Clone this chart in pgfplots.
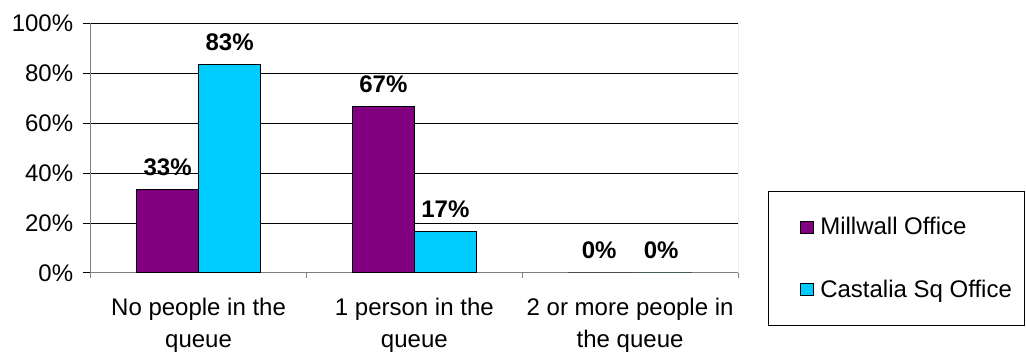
\documentclass[border=0pt]{standalone}
\usepackage{pgfplots}
\pgfplotsset{compat=1.18}
\usepackage{fontspec}
\setmainfont{Liberation Sans}
\definecolor{millwall}{RGB}{128,0,128}
\definecolor{castalia}{RGB}{0,204,255}
\definecolor{frame}{RGB}{128,128,128}
\newcommand{\chartfont}{\fontsize{24}{32}\selectfont}
\begin{document}
\begin{tikzpicture}
\useasboundingbox (0,0) rectangle (1026pt,352pt);
\begin{axis}[
  at={(90.7pt,79pt)}, anchor=south west,
  scale only axis,
  width=647.3pt, height=249.7pt,
  ybar=0pt, bar width=62pt,
  xmin=-0.5, xmax=2.5,
  ymin=0, ymax=100,
  /pgf/number format/assume math mode=true,
  every tick label/.append style={font=\chartfont},
  xtick={0,1,2},
  xticklabels={{No people in the\\queue},{1 person in the\\queue},{2 or more people in\\the queue}},
  xticklabel style={align=center, yshift=-14pt},
  major x tick style={draw=none},
  minor xtick={-0.5,0.5,1.5,2.5},
  minor tick length=5pt,
  minor x tick style={draw=frame, line width=1pt},
  ytick={0,20,40,60,80,100},
  yticklabel={\pgfmathprintnumber[assume math mode=true]{\tick}\%},
  yticklabel style={xshift=-6pt},
  major tick length=8pt,
  tick align=outside,
  ytick style={draw=black, line width=1pt},
  ymajorgrids,
  major grid style={black, line width=1pt},
  axis line style={frame, line width=1pt},
  axis x line*=bottom,
  axis y line*=left,
  nodes near coords={\pgfmathprintnumber[fixed,precision=0,assume math mode=true]{\pgfplotspointmeta}\%},
  every node near coord/.append style={font=\bfseries\chartfont, black, yshift=10pt},
  area legend,
  legend image code/.code={%
    \path[draw=none, fill=none] (0pt,0pt) -- (39pt,0pt);
    \draw[#1, line width=1pt] (21pt,-6pt) rectangle (34pt,6pt);},
  legend style={
    at={(rel axis cs:1.046,0.328)}, anchor=north west,
    draw=black, line width=1pt,
    font=\chartfont,
    inner xsep=11pt, inner ysep=24pt,
    row sep=40pt,
    legend cell align=left,
  },
]
\addplot[fill=millwall, draw=black, line width=1pt] coordinates {(0,33.33) (1,66.67) (2,0)};
\addlegendentry{Millwall Office}
\addplot[fill=castalia, draw=black, line width=1pt] coordinates {(0,83.33) (1,16.67) (2,0)};
\addlegendentry{Castalia Sq Office}
% right edge of the plot area
\draw[frame, line width=1pt] (rel axis cs:1,0) -- (rel axis cs:1,1);
\end{axis}
\end{tikzpicture}
\end{document}
